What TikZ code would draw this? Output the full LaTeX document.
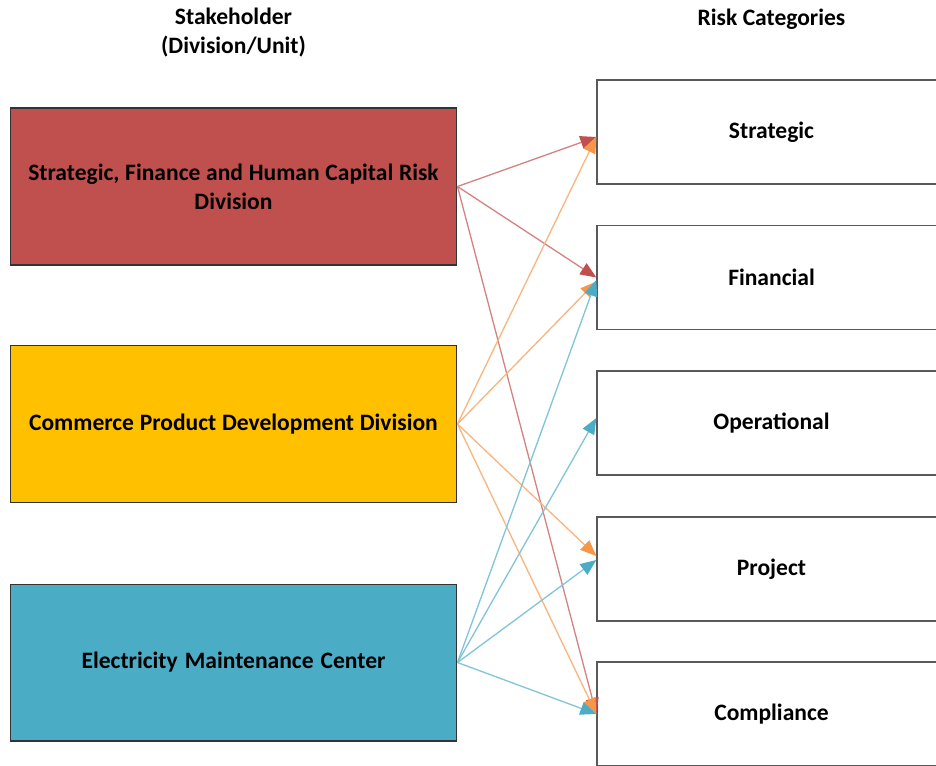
\documentclass[tikz,border=0pt]{standalone}
\usepackage{fontspec}
\setmainfont{Carlito}
\usepackage{tikz}
\usetikzlibrary{arrows.meta}
\definecolor{divred}{HTML}{C0504D}
\definecolor{divyellow}{HTML}{FFC000}
\definecolor{divblue}{HTML}{4BACC6}
\definecolor{linkorange}{HTML}{F79646}
\definecolor{boxgray}{RGB}{89, 89, 89}

% normal word spacing inside centred nodes
\newcommand\tightspace{\spaceskip=0.23em plus 0.05em\relax}

\tikzset{
  labelfont/.style={font=\fontsize{13.4}{16.5}\selectfont\bfseries,
    execute at begin node=\tightspace},
  stakebox/.style={draw=black!80, line width=0.6pt, minimum width=8.94cm,
    minimum height=3.14cm, align=center, text width=8.7cm, inner sep=1pt, labelfont},
  riskbox/.style={draw=boxgray, line width=0.8pt, fill=white, minimum width=6.98cm,
    minimum height=2.08cm, align=center, labelfont},
  header/.style={align=center, labelfont},
  link/.style={line width=0.75pt, draw=#1!70,
    -{Triangle[length=0.32cm, width=0.26cm, color=#1]}},
}

\begin{document}
\begin{tikzpicture}[x=0.02cm, y=-0.02cm]
    \useasboundingbox (0,0) rectangle (936,765);

    %% column headers
    \node[header] (stakehdr) at (233.5,33) {Stakeholder\\(Division/Unit)};
    \node[header] (riskhdr) at (771.5,19) {Risk Categories};

    %% stakeholders
    \node[stakebox, fill=divred] (sfhc) at (233.5,186.5)
      {Strategic, Finance and Human Capital Risk\\Division};
    \node[stakebox, fill=divyellow] (cpd) at (233.5,424)
      {Commerce Product Development Division};
    \node[stakebox, fill=divblue] (emc) at (233.5,662.5)
      {Electricity Maintenance Center};

    %% risk categories
    \node[riskbox] (strat) at (771.5,132) {Strategic};
    \node[riskbox] (fin) at (771.5,277.5) {Financial};
    \node[riskbox] (oper) at (771.5,423) {Operational};
    \node[riskbox] (proj) at (771.5,569) {Project};
    \node[riskbox] (comp) at (771.5,714) {Compliance};

    %% links
    \draw[link=divred] (sfhc.east) -- ([yshift=-0.1cm]strat.west);
    \draw[link=divred] (sfhc.east) -- (fin.west);
    \draw[link=divred] (sfhc.east) -- (comp.west);

    \draw[link=linkorange] (cpd.east) -- ([yshift=-0.1cm]strat.west);
    \draw[link=linkorange] (cpd.east) -- ([yshift=-0.08cm]fin.west);
    \draw[link=linkorange] (cpd.east) -- ([yshift=0.26cm]proj.west);
    \draw[link=linkorange] (cpd.east) -- (comp.west);

    \draw[link=divblue] (emc.east) -- ([yshift=-0.05cm]fin.west);
    \draw[link=divblue] (emc.east) -- ([yshift=0.1cm]oper.west);
    \draw[link=divblue] (emc.east) -- ([yshift=0.18cm]proj.west);
    \draw[link=divblue] (emc.east) -- (comp.west);
  \end{tikzpicture}
\end{document}
